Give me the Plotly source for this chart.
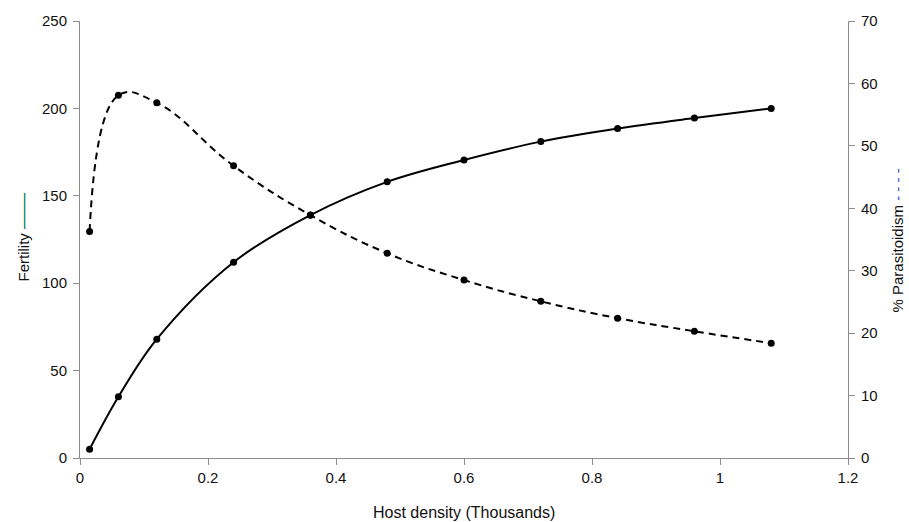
import plotly.graph_objects as go

host_density = [0.015, 0.06, 0.12, 0.24, 0.36, 0.48, 0.6, 0.72, 0.84, 0.96, 1.08]
fertility = [5, 35, 68, 112, 139, 158, 170.5, 181, 188.5, 194.5, 200]
parasitoidism = [36.3, 58.1, 56.9, 46.8, 38.9, 32.8, 28.5, 25.1, 22.4, 20.3, 18.4]

x_title = "Host density (Thousands)"
y_title = "Fertility <span style='color:#00804a;font-size:18px'>——</span>"
y2_title = "% Parasitoidism <span style='color:#2a4fb0'>- - - -</span>"

axis_color = "#8c8c8c"
fam = "Arial, Liberation Sans, sans-serif"
tickfont = dict(family=fam, size=15, color="#111")

fig = go.Figure()
fig.add_trace(go.Scatter(
    x=host_density, y=fertility, mode="lines+markers",
    line=dict(color="black", width=2, shape="spline", smoothing=1),
    marker=dict(color="black", size=7), yaxis="y", showlegend=False))
fig.add_trace(go.Scatter(
    x=host_density, y=parasitoidism, mode="lines+markers",
    line=dict(color="black", width=2, dash="7px,5px", shape="spline", smoothing=1.2),
    marker=dict(color="black", size=7), yaxis="y2", showlegend=False))

common = dict(showline=True, linecolor=axis_color, linewidth=1,
              ticks="outside", ticklen=6, tickcolor=axis_color,
              showgrid=False, zeroline=False, tickfont=tickfont, automargin=False)

fig.update_layout(
    width=909, height=522,
    margin=dict(l=80, r=61, t=21, b=64),
    paper_bgcolor="white", plot_bgcolor="white",
    font=dict(family=fam, size=15, color="#111"),
    xaxis=dict(range=[0, 1.2], tickvals=[0, 0.2, 0.4, 0.6, 0.8, 1, 1.2],
               ticktext=["0", "0.2", "0.4", "0.6", "0.8", "1", "1.2"], **common),
    yaxis=dict(range=[0, 250], tickvals=[0, 50, 100, 150, 200, 250],
               ticklabelstandoff=3, **common),
    yaxis2=dict(range=[0, 70], tickvals=[0, 10, 20, 30, 40, 50, 60, 70],
                overlaying="y", side="right", ticklabelstandoff=3, **common),
    annotations=[
        dict(text=x_title, xref="paper", yref="paper", x=0.5, y=0,
             xanchor="center", yanchor="middle", yshift=-54, showarrow=False,
             font=dict(family=fam, size=16, color="#111")),
        dict(text=y_title, xref="paper", yref="paper", x=0, y=0.5,
             xanchor="center", yanchor="middle", xshift=-58, yshift=2,
             textangle=-90, showarrow=False,
             font=dict(family=fam, size=15, color="#111")),
        dict(text=y2_title, xref="paper", yref="paper", x=1, y=0.5,
             xanchor="center", yanchor="middle", xshift=49, yshift=-1,
             textangle=-90, showarrow=False,
             font=dict(family=fam, size=15, color="#111")),
    ],
)

fig.write_html("out.html")
